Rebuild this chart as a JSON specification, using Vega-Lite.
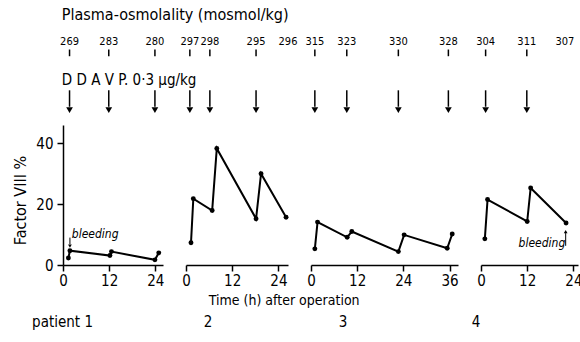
{
  "$schema": "https://vega.github.io/schema/vega-lite/v6.json",
  "autosize": {"type": "none"},
  "padding": {"left": 63, "top": 125, "right": 517, "bottom": 217},
  "background": "white",
  "bounds": "flush",
  "spacing": 23,
  "config": {
    "font": "Liberation Sans Narrow, DejaVu Sans Condensed, sans-serif",
    "view": {"stroke": null},
    "axis": {"domainColor": "black", "domainWidth": 1.5, "tickColor": "black", "tickWidth": 1.5, "tickSize": 6, "labelColor": "black", "labelFontSize": 15, "labelPadding": 2, "labelFlush": false, "grid": false, "titleColor": "black", "titleFontWeight": "normal"},
    "text": {"color": "black"}
  },
  "datasets": {
    "f8": [
      {"patient": 1, "t": 1.4, "f8": 2.3}, {"patient": 1, "t": 1.8, "f8": 4.7}, {"patient": 1, "t": 12.2, "f8": 3.1}, {"patient": 1, "t": 12.6, "f8": 4.4}, {"patient": 1, "t": 23.9, "f8": 1.7}, {"patient": 1, "t": 24.9, "f8": 4.0},
      {"patient": 2, "t": 1.3, "f8": 7.3}, {"patient": 2, "t": 1.9, "f8": 21.8}, {"patient": 2, "t": 6.8, "f8": 17.9}, {"patient": 2, "t": 8.0, "f8": 38.3}, {"patient": 2, "t": 18.2, "f8": 15.2}, {"patient": 2, "t": 19.5, "f8": 30.0}, {"patient": 2, "t": 26.0, "f8": 15.7},
      {"patient": 3, "t": 1.0, "f8": 5.3}, {"patient": 3, "t": 1.7, "f8": 14.1}, {"patient": 3, "t": 9.4, "f8": 9.1}, {"patient": 3, "t": 10.6, "f8": 11.0}, {"patient": 3, "t": 22.7, "f8": 4.4}, {"patient": 3, "t": 24.2, "f8": 9.9}, {"patient": 3, "t": 35.4, "f8": 5.5}, {"patient": 3, "t": 36.7, "f8": 10.2},
      {"patient": 4, "t": 1.0, "f8": 8.6}, {"patient": 4, "t": 1.7, "f8": 21.5}, {"patient": 4, "t": 12.0, "f8": 14.3}, {"patient": 4, "t": 12.9, "f8": 25.3}, {"patient": 4, "t": 22.1, "f8": 13.8}
    ],
    "dose": [
      {"patient": 1, "t": 1.7, "osm": 269, "ddavp": true}, {"patient": 1, "t": 11.9, "osm": 283, "ddavp": true}, {"patient": 1, "t": 23.9, "osm": 280, "ddavp": true},
      {"patient": 2, "t": 1.0, "osm": 297, "ddavp": true}, {"patient": 2, "t": 6.2, "osm": 298, "ddavp": true}, {"patient": 2, "t": 18.2, "osm": 295, "ddavp": true}, {"patient": 2, "t": 26.5, "osm": 296, "ddavp": false},
      {"patient": 3, "t": 1.0, "osm": 315, "ddavp": true}, {"patient": 3, "t": 9.3, "osm": 323, "ddavp": true}, {"patient": 3, "t": 22.7, "osm": 330, "ddavp": true}, {"patient": 3, "t": 35.7, "osm": 328, "ddavp": true},
      {"patient": 4, "t": 1.2, "osm": 304, "ddavp": true}, {"patient": 4, "t": 11.9, "osm": 311, "ddavp": true}, {"patient": 4, "t": 21.8, "osm": 307, "ddavp": false}
    ]
  },
  "hconcat": [
    {
      "width": 100, "height": 140,
      "layer": [
        {"data": {"name": "f8"}, "transform": [{"filter": "datum.patient == 1"}],
         "mark": {"type": "line", "color": "black", "strokeWidth": 2},
         "encoding": {
           "x": {"field": "t", "type": "quantitative", "scale": {"domain": [0, 26], "nice": false}, "axis": {"values": [0, 12, 24], "title": null}},
           "y": {"field": "f8", "type": "quantitative", "scale": {"domain": [0, 46], "nice": false}, "axis": {"values": [0, 20, 40], "title": "Factor VIII %", "titleFontSize": 16, "titleX": -43, "titleY": 75, "titleAngle": -90, "titleAlign": "center", "titleBaseline": "middle", "labelPadding": 4}}
         }},
        {"data": {"name": "f8"}, "transform": [{"filter": "datum.patient == 1"}],
         "mark": {"type": "point", "filled": true, "color": "black", "size": 24, "opacity": 1},
         "encoding": {"x": {"field": "t", "type": "quantitative", "scale": {"domain": [0, 26], "nice": false}}, "y": {"field": "f8", "type": "quantitative", "scale": {"domain": [0, 46], "nice": false}}}},
        {"data": {"name": "dose"}, "transform": [{"filter": "datum.patient == 1 && datum.ddavp"}],
         "mark": {"type": "rule", "color": "black", "strokeWidth": 1.5},
         "encoding": {"x": {"field": "t", "type": "quantitative", "scale": {"domain": [0, 26], "nice": false}}, "y": {"datum": 57.4}, "y2": {"datum": 52}}},
        {"data": {"name": "dose"}, "transform": [{"filter": "datum.patient == 1 && datum.ddavp"}],
         "mark": {"type": "point", "shape": "triangle-down", "filled": true, "color": "black", "size": 45, "opacity": 1},
         "encoding": {"x": {"field": "t", "type": "quantitative", "scale": {"domain": [0, 26], "nice": false}}, "y": {"datum": 50.9}}},
        {"data": {"name": "dose"}, "transform": [{"filter": "datum.patient == 1 && datum.ddavp"}],
         "mark": {"type": "rule", "color": "black", "strokeWidth": 1.5},
         "encoding": {"x": {"field": "t", "type": "quantitative", "scale": {"domain": [0, 26], "nice": false}}, "y": {"datum": 70.8}, "y2": {"datum": 68.6}}},
        {"data": {"name": "dose"}, "transform": [{"filter": "datum.patient == 1"}],
         "mark": {"type": "text", "fontSize": 11, "baseline": "middle"},
         "encoding": {"x": {"field": "t", "type": "quantitative", "scale": {"domain": [0, 26], "nice": false}}, "y": {"datum": 73.2}, "text": {"field": "osm"}}},
        {"data": {"values": [{}]},
         "mark": {"type": "text", "text": "Plasma-osmolality (mosmol/kg)", "align": "left", "baseline": "middle", "fontSize": 16},
         "encoding": {"x": {"datum": -0.3, "scale": {"domain": [0, 26], "nice": false}}, "y": {"datum": 82.2}}},
        {"data": {"values": [{}]},
         "mark": {"type": "text", "text": "D D A V P. 0·3 µg/kg", "align": "left", "baseline": "middle", "fontSize": 15},
         "encoding": {"x": {"datum": -0.3, "scale": {"domain": [0, 26], "nice": false}}, "y": {"datum": 60.8}}},
        {"data": {"values": [{}]},
         "mark": {"type": "text", "text": "bleeding", "align": "left", "baseline": "middle", "fontSize": 12, "fontStyle": "italic"},
         "encoding": {"x": {"datum": 2.3, "scale": {"domain": [0, 26], "nice": false}}, "y": {"datum": 10.2}}},
        {"data": {"values": [{}]},
         "mark": {"type": "rule", "color": "black", "strokeWidth": 1},
         "encoding": {"x": {"datum": 1.8, "scale": {"domain": [0, 26], "nice": false}}, "y": {"datum": 9}, "y2": {"datum": 6.8}}},
        {"data": {"values": [{}]},
         "mark": {"type": "point", "shape": "triangle-down", "filled": true, "color": "black", "size": 14, "opacity": 1},
         "encoding": {"x": {"datum": 1.8, "scale": {"domain": [0, 26], "nice": false}}, "y": {"datum": 6.2}}},
        {"data": {"values": [{}]},
         "mark": {"type": "text", "text": "patient 1", "align": "right", "baseline": "middle", "fontSize": 15},
         "encoding": {"x": {"datum": 7.8, "scale": {"domain": [0, 26], "nice": false}}, "y": {"datum": -18.8}}}
      ]
    },
    {
      "width": 102, "height": 140,
      "layer": [
        {"data": {"name": "f8"}, "transform": [{"filter": "datum.patient == 2"}],
         "mark": {"type": "line", "color": "black", "strokeWidth": 2},
         "encoding": {
           "x": {"field": "t", "type": "quantitative", "scale": {"domain": [0, 26.5], "nice": false}, "axis": {"values": [0, 12, 24], "title": null}},
           "y": {"field": "f8", "type": "quantitative", "scale": {"domain": [0, 46], "nice": false}, "axis": null}
         }},
        {"data": {"name": "f8"}, "transform": [{"filter": "datum.patient == 2"}],
         "mark": {"type": "point", "filled": true, "color": "black", "size": 24, "opacity": 1},
         "encoding": {"x": {"field": "t", "type": "quantitative", "scale": {"domain": [0, 26.5], "nice": false}}, "y": {"field": "f8", "type": "quantitative", "scale": {"domain": [0, 46], "nice": false}}}},
        {"data": {"name": "dose"}, "transform": [{"filter": "datum.patient == 2 && datum.ddavp"}],
         "mark": {"type": "rule", "color": "black", "strokeWidth": 1.5},
         "encoding": {"x": {"field": "t", "type": "quantitative", "scale": {"domain": [0, 26.5], "nice": false}}, "y": {"datum": 57.4}, "y2": {"datum": 52}}},
        {"data": {"name": "dose"}, "transform": [{"filter": "datum.patient == 2 && datum.ddavp"}],
         "mark": {"type": "point", "shape": "triangle-down", "filled": true, "color": "black", "size": 45, "opacity": 1},
         "encoding": {"x": {"field": "t", "type": "quantitative", "scale": {"domain": [0, 26.5], "nice": false}}, "y": {"datum": 50.9}}},
        {"data": {"name": "dose"}, "transform": [{"filter": "datum.patient == 2 && datum.ddavp"}],
         "mark": {"type": "rule", "color": "black", "strokeWidth": 1.5},
         "encoding": {"x": {"field": "t", "type": "quantitative", "scale": {"domain": [0, 26.5], "nice": false}}, "y": {"datum": 70.8}, "y2": {"datum": 68.6}}},
        {"data": {"name": "dose"}, "transform": [{"filter": "datum.patient == 2"}],
         "mark": {"type": "text", "fontSize": 11, "baseline": "middle"},
         "encoding": {"x": {"field": "t", "type": "quantitative", "scale": {"domain": [0, 26.5], "nice": false}}, "y": {"datum": 73.2}, "text": {"field": "osm"}}},
        {"data": {"values": [{}]},
         "mark": {"type": "text", "text": "Time (h) after operation", "align": "center", "baseline": "middle", "fontSize": 14},
         "encoding": {"x": {"datum": 25.5, "scale": {"domain": [0, 26.5], "nice": false}}, "y": {"datum": -11.9}}},
        {"data": {"values": [{}]},
         "mark": {"type": "text", "text": "2", "align": "center", "baseline": "middle", "fontSize": 15},
         "encoding": {"x": {"datum": 5.7, "scale": {"domain": [0, 26.5], "nice": false}}, "y": {"datum": -18.8}}}
      ]
    },
    {
      "width": 147, "height": 140,
      "layer": [
        {"data": {"name": "f8"}, "transform": [{"filter": "datum.patient == 3"}],
         "mark": {"type": "line", "color": "black", "strokeWidth": 2},
         "encoding": {
           "x": {"field": "t", "type": "quantitative", "scale": {"domain": [0, 38.2], "nice": false}, "axis": {"values": [0, 12, 24, 36], "title": null}},
           "y": {"field": "f8", "type": "quantitative", "scale": {"domain": [0, 46], "nice": false}, "axis": null}
         }},
        {"data": {"name": "f8"}, "transform": [{"filter": "datum.patient == 3"}],
         "mark": {"type": "point", "filled": true, "color": "black", "size": 24, "opacity": 1},
         "encoding": {"x": {"field": "t", "type": "quantitative", "scale": {"domain": [0, 38.2], "nice": false}}, "y": {"field": "f8", "type": "quantitative", "scale": {"domain": [0, 46], "nice": false}}}},
        {"data": {"name": "dose"}, "transform": [{"filter": "datum.patient == 3 && datum.ddavp"}],
         "mark": {"type": "rule", "color": "black", "strokeWidth": 1.5},
         "encoding": {"x": {"field": "t", "type": "quantitative", "scale": {"domain": [0, 38.2], "nice": false}}, "y": {"datum": 57.4}, "y2": {"datum": 52}}},
        {"data": {"name": "dose"}, "transform": [{"filter": "datum.patient == 3 && datum.ddavp"}],
         "mark": {"type": "point", "shape": "triangle-down", "filled": true, "color": "black", "size": 45, "opacity": 1},
         "encoding": {"x": {"field": "t", "type": "quantitative", "scale": {"domain": [0, 38.2], "nice": false}}, "y": {"datum": 50.9}}},
        {"data": {"name": "dose"}, "transform": [{"filter": "datum.patient == 3 && datum.ddavp"}],
         "mark": {"type": "rule", "color": "black", "strokeWidth": 1.5},
         "encoding": {"x": {"field": "t", "type": "quantitative", "scale": {"domain": [0, 38.2], "nice": false}}, "y": {"datum": 70.8}, "y2": {"datum": 68.6}}},
        {"data": {"name": "dose"}, "transform": [{"filter": "datum.patient == 3"}],
         "mark": {"type": "text", "fontSize": 11, "baseline": "middle"},
         "encoding": {"x": {"field": "t", "type": "quantitative", "scale": {"domain": [0, 38.2], "nice": false}}, "y": {"datum": 73.2}, "text": {"field": "osm"}}},
        {"data": {"values": [{}]},
         "mark": {"type": "text", "text": "3", "align": "center", "baseline": "middle", "fontSize": 15},
         "encoding": {"x": {"datum": 8.3, "scale": {"domain": [0, 38.2], "nice": false}}, "y": {"datum": -18.8}}}
      ]
    },
    {
      "width": 97, "height": 140,
      "layer": [
        {"data": {"name": "f8"}, "transform": [{"filter": "datum.patient == 4"}],
         "mark": {"type": "line", "color": "black", "strokeWidth": 2},
         "encoding": {
           "x": {"field": "t", "type": "quantitative", "scale": {"domain": [0, 25.2], "nice": false}, "axis": {"values": [0, 12, 24], "title": null}},
           "y": {"field": "f8", "type": "quantitative", "scale": {"domain": [0, 46], "nice": false}, "axis": null}
         }},
        {"data": {"name": "f8"}, "transform": [{"filter": "datum.patient == 4"}],
         "mark": {"type": "point", "filled": true, "color": "black", "size": 24, "opacity": 1},
         "encoding": {"x": {"field": "t", "type": "quantitative", "scale": {"domain": [0, 25.2], "nice": false}}, "y": {"field": "f8", "type": "quantitative", "scale": {"domain": [0, 46], "nice": false}}}},
        {"data": {"name": "dose"}, "transform": [{"filter": "datum.patient == 4 && datum.ddavp"}],
         "mark": {"type": "rule", "color": "black", "strokeWidth": 1.5},
         "encoding": {"x": {"field": "t", "type": "quantitative", "scale": {"domain": [0, 25.2], "nice": false}}, "y": {"datum": 57.4}, "y2": {"datum": 52}}},
        {"data": {"name": "dose"}, "transform": [{"filter": "datum.patient == 4 && datum.ddavp"}],
         "mark": {"type": "point", "shape": "triangle-down", "filled": true, "color": "black", "size": 45, "opacity": 1},
         "encoding": {"x": {"field": "t", "type": "quantitative", "scale": {"domain": [0, 25.2], "nice": false}}, "y": {"datum": 50.9}}},
        {"data": {"name": "dose"}, "transform": [{"filter": "datum.patient == 4 && datum.ddavp"}],
         "mark": {"type": "rule", "color": "black", "strokeWidth": 1.5},
         "encoding": {"x": {"field": "t", "type": "quantitative", "scale": {"domain": [0, 25.2], "nice": false}}, "y": {"datum": 70.8}, "y2": {"datum": 68.6}}},
        {"data": {"name": "dose"}, "transform": [{"filter": "datum.patient == 4"}],
         "mark": {"type": "text", "fontSize": 11, "baseline": "middle"},
         "encoding": {"x": {"field": "t", "type": "quantitative", "scale": {"domain": [0, 25.2], "nice": false}}, "y": {"datum": 73.2}, "text": {"field": "osm"}}},
        {"data": {"values": [{}]},
         "mark": {"type": "text", "text": "bleeding", "align": "right", "baseline": "middle", "fontSize": 12, "fontStyle": "italic"},
         "encoding": {"x": {"datum": 21.9, "scale": {"domain": [0, 25.2], "nice": false}}, "y": {"datum": 7.2}}},
        {"data": {"values": [{}]},
         "mark": {"type": "rule", "color": "black", "strokeWidth": 1},
         "encoding": {"x": {"datum": 22.0, "scale": {"domain": [0, 25.2], "nice": false}}, "y": {"datum": 6.3}, "y2": {"datum": 10.5}}},
        {"data": {"values": [{}]},
         "mark": {"type": "point", "shape": "triangle-up", "filled": true, "color": "black", "size": 14, "opacity": 1},
         "encoding": {"x": {"datum": 22.0, "scale": {"domain": [0, 25.2], "nice": false}}, "y": {"datum": 11.0}}},
        {"data": {"values": [{}]},
         "mark": {"type": "text", "text": "4", "align": "center", "baseline": "middle", "fontSize": 15},
         "encoding": {"x": {"datum": -1.3, "scale": {"domain": [0, 25.2], "nice": false}}, "y": {"datum": -18.8}}}
      ]
    }
  ]
}
